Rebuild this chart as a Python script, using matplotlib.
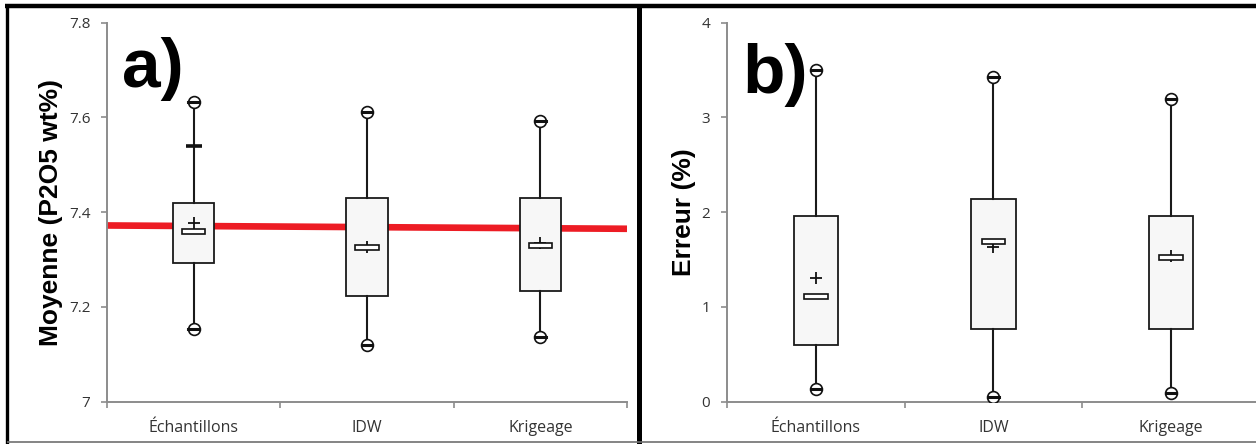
import matplotlib
matplotlib.use("Agg")
import matplotlib.pyplot as plt
from matplotlib.patches import Rectangle
from matplotlib.lines import Line2D

# categories shared by both panels
categories = ["Échantillons", "IDW", "Krigeage"]

# a) moyenne P2O5 (wt%)
moy_q1 = [7.292, 7.223, 7.234]
moy_q3 = [7.420, 7.431, 7.431]
moy_med = [7.359, 7.325, 7.330]
moy_mean = [7.377, 7.327, 7.336]
moy_min = [7.153, 7.120, 7.136]
moy_max = [7.632, 7.611, 7.593]
moy_extra = [7.540, None, None]
moy_ref = [7.372, 7.365]
moy_ticks = [7.0, 7.2, 7.4, 7.6, 7.8]
moy_ticklabels = ["7", "7.2", "7.4", "7.6", "7.8"]

# b) erreur (%)
err_q1 = [0.595, 0.770, 0.770]
err_q3 = [1.960, 2.140, 1.960]
err_med = [1.115, 1.690, 1.525]
err_mean = [1.310, 1.630, 1.540]
err_min = [0.130, 0.050, 0.095]
err_max = [3.500, 3.430, 3.190]
err_ticks = [0, 1, 2, 3, 4]
err_ticklabels = ["0", "1", "2", "3", "4"]

W, H = 1256, 444
GRAY = "#8c8c8c"
TXT = "#333333"
TICK_FONT = ["Open Sans", "DejaVu Sans"]
BOLD_FONT = ["Liberation Sans", "DejaVu Sans"]

fig = plt.figure(figsize=(W / 100, H / 100), dpi=100)
fig.patch.set_facecolor("white")


def px_axes(x0, x1, ytop, ybot):
    return fig.add_axes([x0 / W, (H - ybot) / H, (x1 - x0) / W, (ybot - ytop) / H])


def draw_panel(ax, q1, q3, med, mean, lo, hi, ylim, ticks, ticklabels,
               ylabel, letter, letter_y, box_w, med_w, cap_w):
    pos = [0.5, 1.5, 2.5]
    stats = []
    for i, c in enumerate(categories):
        stats.append(dict(label=c, q1=q1[i], q3=q3[i], med=med[i], mean=mean[i],
                          whislo=lo[i], whishi=hi[i], fliers=[]))
    ax.bxp(stats, positions=pos, widths=box_w, patch_artist=True,
           showmeans=True, showcaps=True, capwidths=cap_w,
           boxprops=dict(facecolor="#f7f7f7", edgecolor="#1a1a1a", linewidth=1.3),
           whiskerprops=dict(color="#1a1a1a", linewidth=1.5),
           capprops=dict(color="#1a1a1a", linewidth=2.2),
           medianprops=dict(visible=False),
           meanprops=dict(marker="+", markeredgecolor="#111111",
                          markersize=8, markeredgewidth=1.3),
           zorder=3)

    # median drawn as a small framed rectangle
    h = 5.0 / 378 * (ylim[1] - ylim[0])
    for p, m in zip(pos, med):
        ax.add_patch(Rectangle((p - med_w / 2, m - h / 2), med_w, h,
                               facecolor="white", edgecolor="#111111",
                               linewidth=1.2, zorder=4))

    # min / max markers
    ax.plot(pos, lo, "o", ms=8.5, mfc="white", mec="#111111", mew=1.2, zorder=5)
    ax.plot(pos, hi, "o", ms=8.5, mfc="white", mec="#111111", mew=1.2, zorder=5)
    ax.plot(pos, lo, "_", ms=8.5, mec="#111111", mew=2.2, zorder=6)
    ax.plot(pos, hi, "_", ms=8.5, mec="#111111", mew=2.2, zorder=6)

    ax.set_xlim(0, 3)
    ax.set_ylim(*ylim)
    for s in ("top", "right"):
        ax.spines[s].set_visible(False)
    for s in ("left", "bottom"):
        ax.spines[s].set_color(GRAY)
        ax.spines[s].set_linewidth(1.4)

    ax.set_yticks(ticks)
    ax.set_yticklabels(ticklabels, family=TICK_FONT, fontsize=11, color=TXT)
    ax.tick_params(axis="y", length=4, width=1.2, color=GRAY, pad=8)

    ax.set_xticks([0, 1, 2, 3])
    ax.set_xticklabels([])
    ax.tick_params(axis="x", which="major", length=4, width=1.2, color=GRAY)
    ax.set_xticks(pos, minor=True)
    ax.set_xticklabels(categories, minor=True, family=TICK_FONT,
                       fontsize=11.5, color=TXT)
    ax.tick_params(axis="x", which="minor", length=0, pad=13)

    ax.set_ylabel(ylabel, family=BOLD_FONT, fontweight="bold", fontsize=19,
                  color="black", labelpad=4)
    ax.text(0.028, letter_y, letter, transform=ax.transAxes, family=BOLD_FONT,
            fontweight="bold", fontsize=50, color="black", va="baseline")
    return pos


# panel a
ax1 = px_axes(107, 627, 22.7, 401.7)
ax1.plot([0, 3], moy_ref, color="#ed1c24", lw=4.8, solid_capstyle="butt", zorder=1)
pos = draw_panel(ax1, moy_q1, moy_q3, moy_med, moy_mean, moy_min, moy_max,
                 (7.0, 7.8), moy_ticks, moy_ticklabels,
                 "Moyenne (P2O5 wt%)", "a)", 0.83, 0.24, 0.135, 0.06)
for p, v in zip(pos, moy_extra):
    if v is not None:
        ax1.plot(p, v, "_", ms=11, mec="#111111", mew=2.6, zorder=5)

# panel b
ax2 = px_axes(727, 1260, 22.7, 401.7)
draw_panel(ax2, err_q1, err_q3, err_med, err_mean, err_min, err_max,
           (0, 4), err_ticks, err_ticklabels,
           "Erreur (%)", "b)", 0.815, 0.25, 0.135, 0.06)

# frame lines around the two panels
def fig_line(x, y, color, lw):
    fig.add_artist(Line2D([v / W for v in x], [1 - v / H for v in y],
                          color=color, lw=lw, transform=fig.transFigure,
                          solid_capstyle="butt"))

fig_line([5, W], [6, 6], "black", 3.2)
fig_line([7, 7], [4, H], "black", 2.4)
fig_line([638.5, 638.5], [4, H], "black", 3.6)
fig_line([7, W], [441.5, 441.5], "#707070", 1.2)

fig.savefig("out.png", dpi=100, facecolor="white")
